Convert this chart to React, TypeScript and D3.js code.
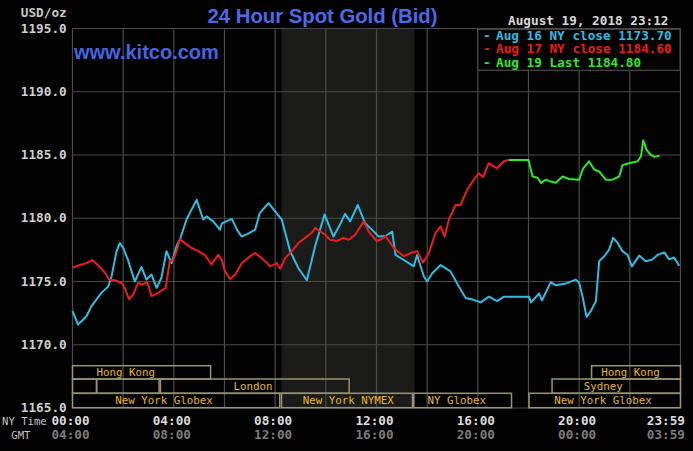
import React from "react";
import * as d3 from "d3";

// ---------- data ----------
const yTicks = [1165, 1170, 1175, 1180, 1185, 1190, 1195];
const xTickHours = [0, 4, 8, 12, 16, 20, 23.983];
const nyTimeLabels = ["00:00", "04:00", "08:00", "12:00", "16:00", "20:00", "23:59"];
const gmtLabels = ["04:00", "08:00", "12:00", "16:00", "20:00", "00:00", "03:59"];
const gridHours = [0, 2, 4, 6, 8, 10, 12, 14, 16, 18, 20, 22, 24];

const aug16Hours = [0, 0.22, 0.55, 0.75, 1.14, 1.41, 1.54, 1.74, 1.87, 2.0, 2.19, 2.46, 2.72, 2.92, 3.12, 3.32, 3.51, 3.71, 3.91, 4.11, 4.24, 4.5, 4.9, 5.16, 5.29, 5.55, 5.82, 5.9, 6.29, 6.49, 6.68, 6.95, 7.21, 7.39, 7.74, 8.0, 8.26, 8.59, 8.92, 9.25, 9.58, 9.95, 10.3, 10.56, 10.76, 10.96, 11.26, 11.55, 11.82, 12.09, 12.36, 12.62, 12.75, 13.08, 13.47, 13.6, 13.87, 14.0, 14.2, 14.53, 14.92, 15.25, 15.52, 15.84, 16.11, 16.44, 16.76, 17.03, 18.02, 18.1, 18.42, 18.53, 18.88, 19.08, 19.48, 19.87, 20.0, 20.13, 20.29, 20.46, 20.66, 20.79, 20.99, 21.18, 21.34, 21.52, 21.71, 21.91, 22.08, 22.37, 22.63, 22.9, 23.09, 23.36, 23.55, 23.75, 23.95];
const aug16Values = [1172.65, 1171.6, 1172.25, 1173.05, 1174.1, 1174.6, 1175.4, 1177.4, 1178.05, 1177.65, 1176.7, 1175.0, 1176.15, 1175.15, 1175.55, 1174.5, 1175.3, 1177.4, 1176.45, 1177.8, 1178.3, 1179.9, 1181.45, 1179.9, 1180.15, 1179.75, 1179.1, 1179.6, 1179.95, 1179.1, 1178.55, 1178.8, 1179.1, 1180.4, 1181.2, 1180.55, 1179.9, 1177.4, 1176.05, 1175.1, 1177.8, 1180.3, 1178.55, 1179.5, 1180.35, 1179.75, 1181.05, 1179.6, 1179.1, 1178.55, 1178.6, 1178.95, 1177.1, 1176.7, 1176.2, 1177.1, 1175.4, 1175.0, 1175.65, 1176.3, 1175.8, 1174.6, 1173.7, 1173.55, 1173.35, 1173.8, 1173.45, 1173.8, 1173.8, 1173.35, 1174.05, 1173.5, 1174.95, 1174.7, 1174.85, 1175.15, 1174.9, 1173.85, 1172.2, 1172.65, 1173.45, 1176.6, 1177.0, 1177.5, 1178.45, 1178.05, 1177.4, 1177.1, 1176.2, 1177.05, 1176.6, 1176.75, 1177.1, 1177.3, 1176.75, 1176.9, 1176.25];

const aug17Hours = [0, 0.29, 0.55, 0.79, 1.08, 1.34, 1.44, 1.67, 1.93, 2.06, 2.23, 2.39, 2.59, 2.76, 2.95, 3.12, 3.38, 3.68, 3.84, 3.97, 4.11, 4.24, 4.43, 4.7, 4.96, 5.22, 5.49, 5.75, 5.89, 6.02, 6.22, 6.42, 6.68, 7.01, 7.21, 7.47, 7.8, 8.07, 8.2, 8.39, 8.66, 8.92, 9.18, 9.45, 9.58, 9.78, 9.97, 10.17, 10.43, 10.7, 10.9, 11.16, 11.49, 11.69, 12.01, 12.16, 12.36, 12.68, 13.08, 13.34, 13.6, 13.84, 14.07, 14.33, 14.53, 14.69, 14.86, 15.12, 15.32, 15.58, 15.84, 16.04, 16.21, 16.43, 16.76, 17.03, 17.22];
const aug17Values = [1176.1, 1176.3, 1176.45, 1176.7, 1176.15, 1175.55, 1175.15, 1175.1, 1174.9, 1174.5, 1173.6, 1173.95, 1174.9, 1174.75, 1174.95, 1173.85, 1174.1, 1174.5, 1176.6, 1176.7, 1177.4, 1178.35, 1178.05, 1177.65, 1177.4, 1177.1, 1176.35, 1177.1, 1176.75, 1175.8, 1175.2, 1175.55, 1176.45, 1177.0, 1177.25, 1176.85, 1176.2, 1176.45, 1176.0, 1176.85, 1177.4, 1178.05, 1178.45, 1178.85, 1179.25, 1178.95, 1178.7, 1178.3, 1178.2, 1178.45, 1178.3, 1178.7, 1179.75, 1178.95, 1178.2, 1178.3, 1178.6, 1177.65, 1177.0, 1177.25, 1177.4, 1176.5, 1177.25, 1178.85, 1179.35, 1178.55, 1179.9, 1181.05, 1181.05, 1182.25, 1183.05, 1183.55, 1183.25, 1184.35, 1183.95, 1184.5, 1184.6];

const aug19Hours = [17.22, 18.0, 18.16, 18.36, 18.49, 18.69, 18.88, 19.08, 19.34, 19.6, 20.0, 20.16, 20.39, 20.59, 20.79, 21.05, 21.32, 21.58, 21.71, 21.97, 22.31, 22.44, 22.53, 22.66, 22.83, 22.98, 23.18];
const aug19Values = [1184.6, 1184.6, 1183.3, 1183.2, 1182.8, 1183.05, 1182.9, 1182.8, 1183.3, 1183.1, 1183.05, 1183.95, 1184.5, 1183.85, 1183.7, 1183.05, 1183.05, 1183.3, 1184.2, 1184.35, 1184.5, 1184.9, 1186.15, 1185.4, 1185.0, 1184.85, 1184.95];

const legendLabels = ["Aug 16 NY close 1173.70", "Aug 17 NY close 1184.60", "Aug 19 Last 1184.80"];
const seriesColors = ["#2fbde4", "#ee1c1c", "#2ee82a"];

// market sessions: row, start hour, end hour, label, label hour
const sessionRows = [0, 0, 1, 1, 1, 1, 2, 2, 2, 2];
const sessionStarts = [0, 20.49, 0, 0.95, 3.47, 18.93, 0, 8.25, 13.47, 18.02];
const sessionEnds = [5.45, 24, 0.95, 3.42, 10.92, 24, 8.18, 13.42, 17.33, 24];
const sessionLabels = ["Hong Kong", "Hong Kong", "", "", "London", "Sydney", "New York Globex", "New York NYMEX", "NY Globex", "New York Globex"];
const sessionLabelHours = [2.1, 22.03, 0, 0, 7.13, 20.95, 3.61, 10.89, 15.17, 20.94];

const nymexShade = [8.25, 13.5];

// ---------- layout ----------
const W = 693;
const H = 451;
const left = 72.5;
const right = 680.5;
const top = 28.5;
const bottom = 408;

const MONO = "'DejaVu Sans Mono', monospace";
const SANS = "'Liberation Sans', Arial, sans-serif";

export default function App() {
  const x = d3.scaleLinear().domain([0, 24]).range([left, right]);
  const y = d3.scaleLinear().domain([1165, 1195]).range([bottom, top]);
  const line = d3
    .line<[number, number]>()
    .x((d) => x(d[0]))
    .y((d) => y(d[1]));

  const series = [
    d3.zip(aug16Hours, aug16Values) as [number, number][],
    d3.zip(aug17Hours, aug17Values) as [number, number][],
    d3.zip(aug19Hours, aug19Values) as [number, number][],
  ];

  const rowTop = [365.7, 379, 393.3];
  const rowH = [13.3, 14.3, 14.4];

  const gridColor = "#4a4a4a";

  return (
    <svg
      width={W}
      height={H}
      style={{ position: "absolute", left: 0, top: 0, display: "block" }}
    >
      <rect x={0} y={0} width={W} height={H} fill="#020202" />
      {/* NYMEX shading */}
      <rect
        x={x(nymexShade[0])}
        y={top}
        width={x(nymexShade[1]) - x(nymexShade[0])}
        height={bottom - top}
        fill="#1b1c1a"
      />
      {/* grid */}
      {gridHours.map((h) => (
        <line
          key={"v" + h}
          x1={x(h)}
          x2={x(h)}
          y1={top}
          y2={bottom}
          stroke={gridColor}
          strokeWidth={1.2}
        />
      ))}
      {yTicks.map((v) => (
        <line
          key={"h" + v}
          x1={left}
          x2={right}
          y1={y(v)}
          y2={y(v)}
          stroke={gridColor}
          strokeWidth={1.2}
        />
      ))}

      {/* sessions */}
      {sessionRows.map((r, i) => (
        <g key={"s" + i}>
          <rect
            x={x(sessionStarts[i])}
            y={rowTop[r]}
            width={x(sessionEnds[i]) - x(sessionStarts[i])}
            height={rowH[r]}
            fill="none"
            stroke="#9a9470"
            strokeWidth={1.5}
          />
          {sessionLabels[i] && (
            <text
              x={x(sessionLabelHours[i])}
              y={rowTop[r] + rowH[r] / 2 + 0.5}
              textAnchor="middle"
              dominantBaseline="middle"
              fill="#e8b526"
              fontFamily={MONO}
              fontSize={10.8}
            >
              {sessionLabels[i]}
            </text>
          )}
        </g>
      ))}

      {/* lines */}
      {series.map((s, i) => (
        <path
          key={"p" + i}
          d={line(s) || ""}
          fill="none"
          stroke={seriesColors[i]}
          strokeWidth={2}
          strokeLinejoin="round"
        />
      ))}

      {/* legend */}
      <rect x={x(16)} y={29.3} width={right - 0.5 - x(16)} height={41} fill="#020202" stroke={gridColor} strokeWidth={1.2} />
      {legendLabels.map((t, i) => (
        <g key={"l" + i}>
          <text x={483} y={36 + i * 13.6} dominantBaseline="middle" fill={seriesColors[i]} fontFamily={MONO} fontWeight="bold" fontSize={12.7}>
            -
          </text>
          <text x={496} y={36 + i * 13.6} dominantBaseline="middle" fill={seriesColors[i]} fontFamily={MONO} fontWeight="bold" fontSize={12.7}>
            {t}
          </text>
        </g>
      ))}

      {/* title etc */}
      <text x={322.5} y={23} textAnchor="middle" fill="#4b6be6" fontFamily={SANS} fontWeight="bold" fontSize={20.3}>
        24 Hour Spot Gold (Bid)
      </text>
      <text x={74} y={59} fill="#4466e0" fontFamily={SANS} fontWeight="bold" fontSize={20}>
        www.kitco.com
      </text>
      <text x={668.5} y={21} textAnchor="end" dominantBaseline="middle" fill="#d8d8d8" fontFamily={MONO} fontWeight="bold" fontSize={12.7}>
        August 19, 2018 23:12
      </text>
      <text x={66.7} y={13.8} textAnchor="end" dominantBaseline="middle" fill="#c8c8c8" fontFamily={MONO} fontWeight="bold" fontSize={12.7}>
        USD/oz
      </text>

      {/* y axis labels */}
      {yTicks.map((v) => (
        <text key={"yl" + v} x={66.7} y={y(v) + 0.5} textAnchor="end" dominantBaseline="middle" fill="#d0d0d0" fontFamily={MONO} fontWeight="bold" fontSize={12.7}>
          {d3.format(".1f")(v)}
        </text>
      ))}

      {/* x axis labels */}
      <text x={46.7} y={421.5} textAnchor="end" dominantBaseline="middle" fill="#c4c4c4" fontFamily={MONO} fontSize={10.6}>
        NY Time
      </text>
      <text x={30.5} y={435.5} textAnchor="end" dominantBaseline="middle" fill="#c4c4c4" fontFamily={MONO} fontSize={10.6}>
        GMT
      </text>
      {xTickHours.map((h, i) => {
        const last = i === xTickHours.length - 1;
        const xx = last ? 685 : x(h) - 2;
        const anchor = last ? "end" : "middle";
        return (
          <g key={"xl" + i}>
            <text x={xx} y={421.5} textAnchor={anchor} dominantBaseline="middle" fill="#dcdcdc" fontFamily={MONO} fontWeight="bold" fontSize={12.7}>
              {nyTimeLabels[i]}
            </text>
            <text x={xx} y={435.5} textAnchor={anchor} dominantBaseline="middle" fill="#7c7c7c" fontFamily={MONO} fontWeight="bold" fontSize={12.7}>
              {gmtLabels[i]}
            </text>
          </g>
        );
      })}
    </svg>
  );
}
